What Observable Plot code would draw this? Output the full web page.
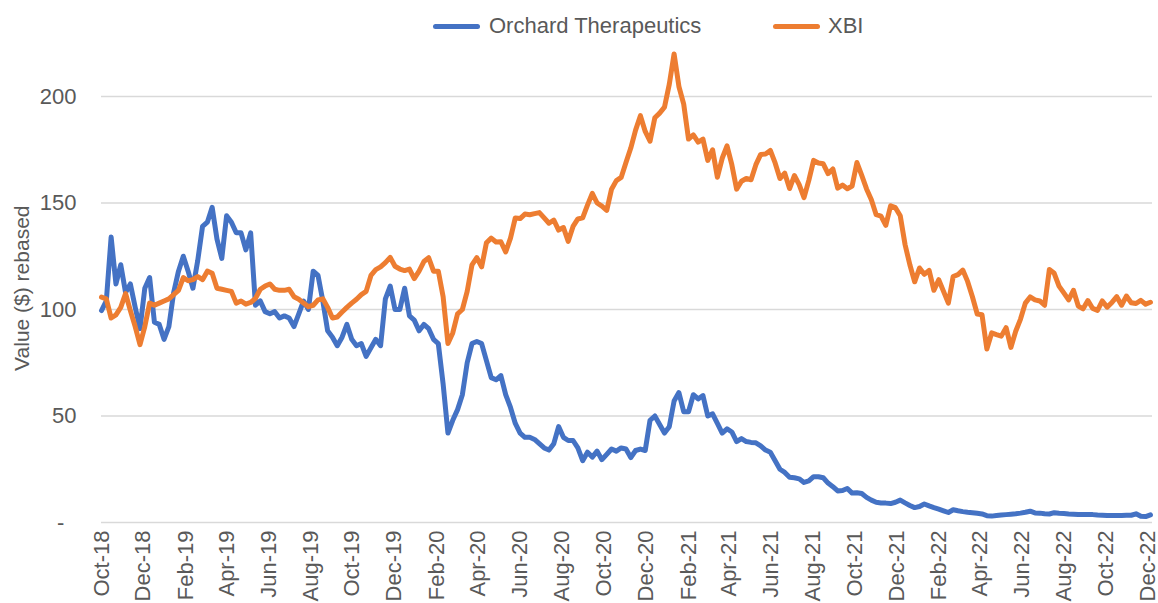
<!DOCTYPE html>
<html>
<head>
<meta charset="utf-8">
<script src="https://cdn.jsdelivr.net/npm/d3@7"></script>
<script src="https://cdn.jsdelivr.net/npm/@observablehq/plot@0.6"></script>
<style>
  body { margin: 0; background: #fff; }
  #wrap { width: 1158px; font-family: "Liberation Sans", Arial, sans-serif; color: #595959; }
  #legend { position: relative; height: 44px; width: 1158px; }
  .sw { position: absolute; height: 5px; border-radius: 3px; }
  .lt { position: absolute; font-size: 22px; line-height: 22px; white-space: nowrap; }
</style>
</head>
<body>
<div id="wrap">
  <div id="legend"></div>
  <div id="chart"></div>
</div>
<script>
// ---- data (weekly samples) ----
const seriesNames = ["Orchard Therapeutics", "XBI"];
const seriesColors = ["#4472C4", "#ED7D31"];
const startDate = "2018-10-01";
const endDate = "2022-12-08";
const xTickLabels = ["Oct-18","Dec-18","Feb-19","Apr-19","Jun-19","Aug-19","Oct-19","Dec-19",
  "Feb-20","Apr-20","Jun-20","Aug-20","Oct-20","Dec-20","Feb-21","Apr-21","Jun-21","Aug-21",
  "Oct-21","Dec-21","Feb-22","Apr-22","Jun-22","Aug-22","Oct-22","Dec-22"];
const yTicks = [0, 50, 100, 150, 200];

const orchard = [
  99.5, 104, 134, 112, 121, 108, 112, 101, 91, 110,
  115, 94, 93, 86, 92, 108, 118, 125, 118, 110,
  123, 139, 141, 148, 133, 124, 144, 141, 136, 136,
  128, 136, 102, 104, 99, 98, 99, 96, 97, 96,
  92, 98, 104, 100, 118, 116, 104, 90, 87, 83,
  87, 93, 86, 83, 84, 78, 82, 86, 83, 105,
  111, 100, 100, 110, 97, 95, 90, 93, 91, 86,
  84, 65, 42, 48, 53, 60, 75, 84, 85, 84,
  76, 68, 67, 69, 60, 54, 46.5, 42, 40, 40,
  39, 37, 35, 34, 37, 45, 40, 38.5, 38.5, 35,
  29, 33, 30.7, 33.5, 29.5, 32, 34.5, 33.5, 35, 34.5,
  30.5, 33.8, 34.5, 33.8, 48, 50, 46, 42, 45, 57,
  61, 52, 52, 60, 58, 59.6, 50, 51, 46.5, 42,
  44, 42.5, 38, 39.4, 38, 37.6, 37.4, 36, 34, 33,
  29, 25, 23.5, 21.2, 21, 20.5, 18.8, 19.5, 21.5, 21.5,
  21, 18.5, 16.8, 14.8, 15, 16, 13.8, 14, 13.6, 11.8,
  10.5, 9.5, 9.2, 9.1, 8.9, 9.5, 10.5, 9.2, 8, 7,
  7.5, 8.7, 7.8, 7, 6.3, 5.5, 4.7, 6, 5.5, 5.1,
  4.8, 4.6, 4.3, 4.0, 3.2, 3.0, 3.3, 3.5, 3.7, 3.9,
  4.1, 4.4, 4.8, 5.3, 4.5, 4.4, 4.1, 4.0, 4.6, 4.3,
  4.2, 4.0, 3.9, 3.8, 3.8, 3.8, 3.7, 3.5, 3.4, 3.3,
  3.3, 3.3, 3.3, 3.4, 3.4, 4.1, 2.9, 2.8, 3.6
];
const xbi = [
  105.8, 105, 96, 97.5, 101, 107.5, 99.5, 92, 83.5, 92,
  103, 102, 103, 104, 105, 107, 109, 115, 113.5, 114,
  115.5, 114, 118, 117, 110, 109.5, 109, 108.5, 103, 104,
  102.5, 103.3, 105.2, 109.5, 111, 112, 109.5, 109, 109, 109.5,
  106, 104.8, 103, 101.3, 102, 104.5, 105, 101, 96, 96.5,
  98.8, 101, 103, 104.8, 107, 108.5, 116, 118.7, 120, 122,
  124.5, 120.3, 119, 118.3, 119, 114.5, 118, 122.5, 124.3, 118,
  118, 106, 84, 89, 98, 100, 108.5, 121, 124.4, 120,
  131.3, 133.5, 131.7, 131.8, 127, 133.5, 143, 142.7, 144.8, 144.5,
  145, 145.5, 143, 140.5, 142, 137.3, 138.5, 132, 139, 142.5,
  143, 149, 154.5, 150, 148.5, 146.5, 156.5, 160.5, 162, 169,
  175.8, 184.2, 191, 183.6, 179, 190, 192.2, 195, 205.7, 220,
  204.7, 196.4, 180, 182, 178.6, 180, 170, 175, 162.1, 171,
  176.8, 168, 156.5, 160.2, 161.5, 160.9, 168, 172.8, 173, 174.7,
  168.8, 161.5, 164, 156.8, 162.9, 158.6, 152.5, 160.6, 170, 168.8,
  168.4, 163.8, 166, 157, 158.4, 156.7, 158, 169, 163, 156.6,
  151.5, 144.5, 143.8, 139.5, 148.7, 147.8, 144, 130.5, 121, 113,
  119.5, 116.5, 118.4, 109, 114, 108.5, 103, 115.5, 116.4, 118.5,
  113.2, 106, 97.9, 97.5, 81.5, 89, 88.2, 87.5, 91.5, 82.2,
  89.8, 95.5, 103, 105.9, 104.5, 104, 102, 118.8, 117, 111,
  107.8, 104.5, 109, 101.6, 100.3, 104.2, 100.5, 99.6, 104, 101.1,
  103.3, 106, 102, 106.3, 103.2, 102.8, 104.3, 102.5, 103.4
];

// ---- build table ----
const weeks = d3.utcDay.range(new Date(startDate), new Date(endDate), 7);
const rows = [];
[orchard, xbi].forEach((vals, s) => {
  vals.forEach((v, i) => { if (i < weeks.length) rows.push({ date: weeks[i], value: v, series: seriesNames[s] }); });
});
const parseTick = d3.utcParse("%b-%y");
const tickDates = xTickLabels.map(parseTick);

// ---- legend ----
const legend = document.getElementById("legend");
const legendPos = [{ sw: 433, tx: 489 }, { sw: 773, tx: 828 }];
seriesNames.forEach((name, i) => {
  const sw = document.createElement("div");
  sw.className = "sw";
  sw.style.left = legendPos[i].sw + "px";
  sw.style.top = "24px";
  sw.style.width = "47px";
  sw.style.background = seriesColors[i];
  legend.appendChild(sw);
  const t = document.createElement("span");
  t.className = "lt";
  t.style.left = legendPos[i].tx + "px";
  t.style.top = "15px";
  t.textContent = name;
  legend.appendChild(t);
});

// ---- chart ----
const chart = Plot.plot({
  width: 1158,
  height: 559,
  marginLeft: 101,
  marginRight: 6,
  marginTop: 9.4,
  marginBottom: 81,
  style: { fontFamily: "'Liberation Sans', Arial, sans-serif", color: "#595959", background: "#fff", overflow: "visible" },
  x: { type: "utc", domain: [new Date(startDate), new Date(endDate)] },
  y: { domain: [0, 220] },
  color: { domain: seriesNames, range: seriesColors },
  marks: [
    Plot.gridY(yTicks, { stroke: "#d9d9d9", strokeOpacity: 1, strokeWidth: 1.4 }),
    Plot.axisY(yTicks, {
      tickSize: 0, tickPadding: 25, fontSize: 22, fill: "#595959",
      tickFormat: d => d === 0 ? "-\u2007" : String(d),
      label: "Value ($) rebased", labelAnchor: "center", labelOffset: 87, labelArrow: "none"
    }),
    Plot.axisX(tickDates, {
      tickSize: 0, tickPadding: 8, tickRotate: -90, fontSize: 22, fill: "#595959",
      tickFormat: d3.utcFormat("%b-%y"), label: null
    }),
    Plot.line(rows, {
      x: "date", y: "value", z: "series", stroke: "series",
      strokeWidth: 5, strokeLinejoin: "round", strokeLinecap: "round"
    })
  ]
});
document.getElementById("chart").appendChild(chart);
// y-axis title size
d3.select(chart).selectAll('g[aria-label="y-axis label"] text').attr("font-size", 21).attr("fill", "#595959");
</script>
</body>
</html>
